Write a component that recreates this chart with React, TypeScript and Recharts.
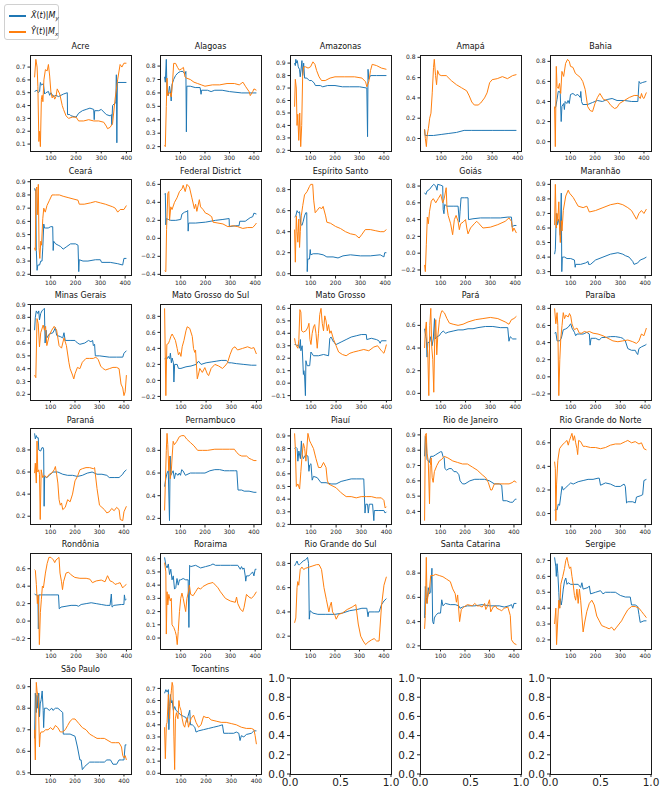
import { LineChart, Line, XAxis, YAxis } from "recharts";

type P = [number, number];

const BLUE = "#1f77b4";
const ORANGE = "#ff7f0e";

const xTicks = [100, 200, 300, 400];
const emptyXTicks = [0, 0.5, 1];
const emptyYTicks = [0, 0.2, 0.4, 0.6, 0.8, 1];

// --- per state series: [t, value] ---
const acreBlue: P[] = [[35,.51],[45,.52],[50,.5],[55,.51],[58,.58],[62,.56],[70,.57],[75,.49],[80,.5],[90,.51],[95,.48],[100,.5],[110,.47],[120,.48],[130,.47],[140,.48],[150,.49],[165,.5],[166,.33],[175,.33],[180,.32],[200,.31],[210,.34],[225,.36],[240,.37],[255,.38],[270,.37],[272,.29],[274,.36],[290,.36],[300,.37],[310,.35],[320,.33],[335,.32],[340,.33],[342,.25],[345,.4],[355,.42],[358,.42],[360,.64],[362,.11],[364,.58],[400,.58]];
const acreOrange: P[] = [[35,.62],[40,.76],[45,.7],[48,.55],[52,.12],[55,.2],[58,.08],[62,.45],[65,.48],[68,.43],[72,.6],[78,.68],[85,.67],[90,.72],[95,.63],[100,.5],[105,.46],[110,.48],[115,.45],[120,.47],[125,.53],[135,.49],[145,.4],[150,.37],[160,.32],[170,.3],[185,.31],[200,.31],[210,.28],[230,.28],[250,.29],[270,.28],[290,.28],[310,.27],[320,.24],[325,.22],[335,.23],[345,.26],[355,.45],[365,.6],[375,.72],[382,.7],[390,.73],[400,.73]];
const acreTicks = [0.1, 0.2, 0.3, 0.4, 0.5, 0.6, 0.7];

const alagoasBlue: P[] = [[35,.72],[38,.68],[42,.85],[45,.6],[50,.58],[55,.65],[60,.59],[62,.54],[65,.66],[72,.7],[80,.73],[90,.75],[100,.76],[110,.76],[118,.74],[122,.76],[124,.31],[126,.65],[140,.65],[160,.64],[180,.64],[184,.59],[186,.62],[210,.62],[225,.61],[240,.62],[270,.62],[300,.61],[350,.6],[400,.6],[410,.6]];
const alagoasOrange: P[] = [[35,.21],[38,.2],[42,.5],[45,.71],[48,.58],[52,.6],[58,.6],[62,.57],[68,.69],[72,.82],[80,.82],[88,.79],[95,.77],[105,.78],[112,.79],[118,.72],[125,.71],[140,.7],[155,.68],[170,.67],[185,.66],[200,.65],[230,.66],[260,.66],[290,.67],[320,.67],[340,.66],[355,.68],[365,.65],[380,.61],[385,.58],[395,.61],[400,.63],[410,.62]];
const alagoasTicks = [0.2, 0.3, 0.4, 0.5, 0.6, 0.7, 0.8];

const amazonasBlue: P[] = [[35,.9],[38,.88],[40,.93],[43,.9],[46,.92],[50,.87],[55,.85],[58,.79],[62,.86],[65,.92],[68,.8],[72,.9],[76,.78],[85,.78],[95,.76],[105,.76],[115,.74],[120,.72],[140,.72],[150,.71],[170,.72],[200,.72],[230,.71],[260,.71],[300,.71],[330,.7],[333,.31],[335,.85],[338,.77],[345,.8],[370,.8],[410,.8]];
const amazonasOrange: P[] = [[35,.55],[38,.77],[42,.7],[45,.4],[48,.49],[52,.28],[56,.5],[60,.23],[64,.4],[68,.8],[72,.87],[80,.87],[90,.86],[100,.87],[110,.91],[118,.89],[125,.84],[135,.79],[145,.76],[160,.76],[180,.78],[200,.79],[240,.79],[280,.79],[310,.78],[325,.75],[330,.71],[338,.75],[345,.84],[352,.89],[370,.88],[390,.86],[410,.85]];
const amazonasTicks = [0.2, 0.3, 0.4, 0.5, 0.6, 0.7, 0.8, 0.9];

const amapaBlue: P[] = [[35,.09],[37,.03],[50,.03],[70,.03],[100,.04],[130,.05],[160,.06],[190,.08],[220,.08],[260,.08],[300,.08],[350,.08],[395,.08]];
const amapaOrange: P[] = [[35,.09],[38,0],[42,-.08],[45,.03],[50,.1],[55,.2],[60,.25],[65,.45],[70,.7],[73,.78],[78,.62],[82,.53],[86,.67],[92,.63],[100,.62],[120,.62],[140,.57],[160,.53],[180,.5],[200,.47],[210,.42],[220,.36],[230,.33],[245,.33],[255,.35],[270,.4],[280,.45],[290,.55],[300,.58],[320,.59],[340,.61],[360,.59],[380,.62],[395,.63]];
const amapaTicks = [0, 0.2, 0.4, 0.6, 0.8];

const bahiaBlue: P[] = [[35,.33],[40,.35],[45,.42],[50,.5],[55,.5],[58,.48],[62,.2],[65,.35],[72,.38],[75,.32],[78,.4],[85,.38],[90,.41],[95,.38],[100,.47],[110,.48],[120,.46],[130,.47],[140,.44],[142,.5],[145,.4],[150,.37],[170,.37],[190,.39],[210,.41],[230,.4],[250,.42],[270,.43],[290,.41],[320,.41],[350,.4],[375,.4],[380,.6],[385,.58],[395,.59],[410,.6]];
const bahiaOrange: P[] = [[35,.35],[38,-.05],[42,.75],[45,.55],[50,.53],[55,.58],[60,.48],[65,.7],[72,.65],[80,.78],[88,.82],[95,.8],[100,.75],[110,.74],[120,.68],[130,.66],[140,.64],[150,.6],[160,.52],[170,.35],[180,.31],[190,.3],[200,.38],[210,.44],[220,.48],[235,.42],[250,.41],[265,.36],[280,.33],[290,.34],[300,.38],[320,.41],[340,.44],[360,.46],[375,.46],[385,.43],[390,.48],[395,.44],[400,.43],[410,.49]];
const bahiaTicks = [0, 0.2, 0.4, 0.6, 0.8];

const cearaBlue: P[] = [[35,.85],[38,.83],[40,.84],[42,.38],[45,.23],[48,.27],[55,.27],[60,.3],[65,.3],[68,.4],[72,.58],[75,.55],[80,.55],[90,.55],[100,.56],[108,.56],[110,.38],[112,.45],[120,.43],[130,.42],[140,.41],[150,.39],[165,.41],[180,.43],[200,.43],[210,.42],[213,.22],[215,.31],[230,.3],[250,.3],[280,.31],[300,.31],[305,.29],[340,.29],[370,.28],[390,.27],[395,.32],[405,.32]];
const cearaOrange: P[] = [[35,.4],[38,.38],[40,.84],[44,.86],[46,.65],[50,.88],[53,.4],[56,.32],[60,.45],[63,.42],[68,.62],[72,.7],[78,.67],[85,.72],[95,.76],[105,.8],[120,.8],[135,.8],[150,.79],[170,.78],[190,.77],[210,.76],[215,.73],[235,.73],[260,.74],[280,.75],[300,.74],[320,.73],[350,.71],[360,.7],[370,.67],[380,.69],[395,.69],[405,.72]];
const cearaTicks = [0.2, 0.3, 0.4, 0.5, 0.6, 0.7, 0.8, 0.9];

const federalBlue: P[] = [[35,.49],[38,.5],[40,.15],[42,.22],[50,.21],[60,.2],[80,.2],[100,.21],[105,.27],[115,.29],[125,.3],[128,.31],[130,.08],[132,.17],[160,.17],[200,.18],[240,.2],[270,.21],[295,.22],[296,.13],[320,.14],[335,.14],[338,.19],[360,.19],[380,.23],[390,.24],[395,.28],[405,.27]];
const federalOrange: P[] = [[35,-.36],[40,-.37],[43,.1],[48,.5],[52,.52],[55,.2],[60,.35],[65,.32],[75,.4],[85,.45],[95,.52],[105,.55],[110,.59],[118,.52],[125,.6],[135,.57],[145,.45],[155,.33],[160,.38],[165,.3],[175,.43],[180,.35],[190,.32],[200,.28],[210,.27],[225,.24],[230,.18],[250,.17],[270,.16],[290,.13],[310,.14],[330,.13],[350,.11],[370,.12],[390,.12],[400,.15],[405,.17]];
const federalTicks = [-0.4, -0.2, 0, 0.2, 0.4, 0.6];

const espiritoBlue: P[] = [[35,.54],[40,.55],[45,.6],[50,.58],[55,.59],[60,.47],[65,.46],[70,.5],[75,.55],[80,.58],[84,.58],[86,.02],[88,.14],[95,.14],[98,.23],[100,.18],[110,.19],[130,.19],[150,.18],[165,.16],[190,.16],[210,.15],[230,.17],[260,.18],[300,.17],[340,.17],[380,.18],[395,.16],[398,.2],[405,.2]];
const espiritoOrange: P[] = [[35,.42],[38,.11],[42,.55],[45,.4],[48,.3],[52,.52],[55,.25],[58,.4],[62,.55],[68,.65],[75,.75],[85,.78],[95,.83],[100,.85],[108,.85],[112,.7],[118,.58],[125,.6],[135,.63],[145,.62],[150,.64],[160,.55],[165,.49],[180,.48],[200,.45],[220,.43],[240,.4],[260,.38],[280,.37],[295,.34],[305,.37],[320,.42],[340,.42],[360,.41],[380,.4],[395,.4],[405,.42]];
const espiritoTicks = [0, 0.2, 0.4, 0.6, 0.8];

const goiasBlue: P[] = [[35,.72],[40,.7],[45,.74],[55,.76],[65,.8],[72,.82],[80,.8],[85,.75],[88,.82],[100,.81],[108,.8],[110,.52],[113,.47],[116,.58],[125,.56],[150,.56],[170,.56],[175,.37],[178,.5],[182,.66],[195,.66],[210,.66],[212,.4],[230,.41],[260,.42],[300,.42],[340,.42],[370,.43],[385,.43],[388,.31],[395,.33],[405,.33]];
const goiasOrange: P[] = [[35,-.14],[38,-.22],[42,.1],[46,.43],[50,.35],[55,.5],[62,.62],[70,.65],[80,.6],[90,.65],[100,.7],[108,.6],[114,.65],[122,.78],[125,.55],[130,.45],[140,.35],[148,.22],[155,.4],[162,.45],[170,.38],[175,.28],[180,.35],[190,.37],[200,.4],[205,.3],[210,.23],[220,.3],[235,.35],[245,.38],[255,.35],[270,.3],[300,.31],[330,.34],[360,.38],[375,.42],[385,.38],[390,.26],[395,.3],[405,.24]];
const goiasTicks = [-0.2, 0, 0.2, 0.4, 0.6, 0.8];

const maranhaoBlue: P[] = [[35,.42],[38,.45],[42,.7],[45,.62],[50,.66],[55,.62],[58,.55],[62,.84],[64,.3],[66,.4],[75,.4],[85,.39],[100,.39],[115,.38],[118,.33],[120,.35],[140,.35],[160,.36],[170,.37],[172,.35],[180,.35],[200,.38],[230,.4],[260,.42],[290,.43],[310,.42],[320,.41],[335,.4],[350,.37],[355,.35],[370,.36],[380,.38],[395,.39],[405,.4]];
const maranhaoOrange: P[] = [[35,.62],[38,.9],[42,.6],[45,.7],[48,.65],[52,.78],[55,.6],[58,.5],[62,.65],[65,.58],[70,.72],[80,.82],[90,.86],[95,.84],[110,.81],[120,.78],[130,.75],[150,.74],[165,.75],[175,.71],[200,.72],[230,.74],[260,.76],[290,.77],[310,.76],[330,.74],[345,.72],[355,.69],[365,.66],[375,.7],[385,.72],[395,.7],[405,.73]];
const maranhaoTicks = [0.3, 0.4, 0.5, 0.6, 0.7, 0.8, 0.9];

const minasBlue: P[] = [[35,.7],[38,.8],[42,.85],[48,.83],[52,.85],[55,.78],[60,.83],[65,.85],[70,.86],[75,.87],[78,.6],[82,.7],[85,.64],[95,.67],[110,.68],[120,.72],[125,.66],[140,.65],[150,.64],[155,.68],[160,.62],[180,.62],[200,.62],[210,.6],[220,.59],[240,.6],[255,.62],[265,.61],[272,.62],[275,.58],[280,.59],[283,.5],[300,.5],[340,.49],[370,.49],[395,.49],[400,.52],[410,.54]];
const minasOrange: P[] = [[35,.35],[40,.33],[45,.79],[50,.75],[55,.57],[60,.68],[70,.74],[75,.7],[80,.73],[85,.58],[95,.66],[105,.7],[115,.73],[125,.7],[135,.58],[145,.56],[155,.64],[165,.58],[175,.45],[180,.4],[190,.35],[195,.32],[200,.36],[210,.41],[220,.4],[230,.45],[245,.48],[260,.48],[275,.48],[285,.49],[295,.47],[305,.42],[315,.4],[325,.39],[340,.4],[355,.41],[370,.41],[380,.4],[388,.28],[395,.25],[400,.19],[405,.22],[410,.35]];
const minasTicks = [0.2, 0.3, 0.4, 0.5, 0.6, 0.7, 0.8, 0.9];

const msulBlue: P[] = [[35,.27],[40,.28],[45,.27],[50,.3],[55,.27],[58,.34],[62,.22],[65,.28],[70,.22],[72,-.02],[75,.2],[85,.2],[90,.15],[100,.15],[120,.17],[140,.18],[160,.2],[170,.24],[180,.2],[200,.22],[220,.23],[240,.24],[260,.25],[280,.25],[290,.22],[300,.22],[320,.21],[350,.2],[380,.19],[400,.19]];
const msulOrange: P[] = [[35,.9],[40,-.19],[44,.45],[50,.46],[55,.5],[60,.55],[65,.58],[70,.55],[78,.5],[85,.4],[90,.32],[95,.35],[100,.3],[105,.42],[112,.5],[120,.62],[125,.67],[135,.65],[145,.55],[150,.4],[155,.35],[158,.38],[165,.02],[170,.08],[175,.15],[185,.1],[195,.16],[205,.08],[210,.06],[220,.15],[235,.2],[250,.18],[265,.15],[275,.18],[285,.22],[295,.32],[305,.4],[315,.42],[325,.38],[345,.4],[365,.42],[380,.4],[390,.41],[395,.37],[400,.33]];
const msulTicks = [-0.2, 0, 0.2, 0.4, 0.6, 0.8];

const mgrossoBlue: P[] = [[35,.31],[40,.31],[45,.3],[50,.31],[55,.28],[58,.35],[60,.26],[65,.3],[70,.07],[72,.1],[75,.05],[78,-.1],[80,.18],[85,.14],[95,.14],[100,.25],[110,.22],[130,.22],[150,.23],[170,.22],[175,.36],[180,.37],[190,.33],[200,.31],[220,.33],[240,.35],[260,.37],[280,.38],[300,.39],[320,.39],[322,.35],[340,.36],[360,.35],[370,.34],[375,.32],[380,.34],[400,.34]];
const mgrossoOrange: P[] = [[35,.36],[38,.32],[42,.3],[48,.28],[52,.35],[56,.59],[60,.57],[63,.42],[70,.41],[80,.42],[88,.45],[92,.48],[96,.35],[100,.31],[105,.4],[110,.45],[115,.47],[120,.4],[125,.28],[130,.4],[135,.55],[140,.6],[145,.48],[150,.42],[155,.54],[160,.5],[165,.42],[170,.47],[175,.4],[180,.42],[190,.35],[200,.3],[210,.25],[225,.23],[240,.22],[255,.24],[270,.25],[290,.26],[310,.27],[330,.26],[350,.29],[365,.3],[380,.26],[390,.24],[395,.27],[400,.31]];
const mgrossoTicks = [-0.1, 0, 0.1, 0.2, 0.3, 0.4, 0.5, 0.6];

const paraBlue: P[] = [[35,.57],[40,.5],[42,.48],[45,.32],[48,.45],[55,.45],[60,.5],[65,.42],[70,.48],[75,.66],[78,.48],[85,.5],[95,.51],[100,.53],[110,.55],[120,.53],[130,.54],[150,.55],[170,.56],[190,.56],[210,.57],[230,.57],[250,.58],[280,.59],[310,.59],[340,.58],[370,.58],[375,.46],[380,.5],[390,.48],[405,.48]];
const paraOrange: P[] = [[35,.4],[38,.55],[42,.63],[45,.45],[48,.35],[52,-.02],[56,.6],[60,.75],[64,.4],[68,.3],[72,.01],[76,.5],[80,.65],[84,.34],[88,.5],[95,.65],[100,.7],[105,.73],[115,.71],[125,.66],[135,.62],[150,.61],[170,.6],[190,.61],[210,.63],[240,.65],[270,.66],[300,.67],[330,.66],[360,.63],[375,.61],[385,.65],[395,.66],[405,.68]];
const paraTicks = [0, 0.2, 0.4, 0.6];

const paraibaBlue: P[] = [[35,.51],[40,.52],[45,.42],[55,.42],[62,.45],[70,.55],[80,.56],[90,.58],[100,.62],[105,.57],[115,.52],[120,.48],[125,.5],[135,.5],[150,.5],[165,.52],[175,.5],[178,.37],[182,.45],[200,.45],[215,.43],[225,.46],[240,.46],[260,.47],[280,.47],[300,.46],[310,.45],[320,.42],[330,.33],[345,.31],[360,.31],[365,.28],[370,.26],[375,.33],[385,.35],[400,.37],[405,.38]];
const paraibaOrange: P[] = [[35,.8],[40,.62],[45,.75],[48,.6],[52,-.22],[56,.2],[60,.45],[65,.6],[70,.75],[75,.68],[80,.72],[90,.7],[95,.74],[100,.71],[105,.62],[110,.58],[115,.55],[125,.57],[135,.51],[145,.51],[155,.53],[165,.52],[175,.53],[190,.51],[210,.5],[230,.48],[250,.45],[270,.42],[290,.41],[310,.42],[330,.43],[350,.41],[365,.39],[375,.42],[385,.5],[395,.48],[405,.57]];
const paraibaTicks = [-0.2, 0, 0.2, 0.4, 0.6, 0.8];

const paranaBlue: P[] = [[35,.95],[38,.9],[42,.93],[45,.91],[50,.91],[52,.8],[60,.79],[65,.82],[70,.82],[72,.8],[74,.29],[76,.56],[85,.55],[95,.57],[110,.6],[130,.6],[150,.58],[170,.57],[190,.57],[210,.56],[230,.57],[250,.59],[270,.6],[290,.58],[310,.58],[330,.57],[340,.55],[360,.55],[380,.55],[385,.56],[395,.58],[400,.6],[410,.62]];
const paranaOrange: P[] = [[35,.59],[38,.68],[42,.5],[45,.88],[48,.6],[52,.62],[55,.58],[58,.17],[62,.62],[68,.55],[75,.57],[85,.55],[95,.58],[105,.59],[115,.62],[120,.65],[125,.58],[130,.5],[135,.35],[140,.3],[145,.32],[150,.26],[160,.28],[170,.35],[180,.33],[190,.4],[200,.52],[210,.56],[220,.62],[230,.63],[245,.64],[260,.64],[275,.63],[280,.64],[290,.45],[300,.3],[310,.28],[320,.26],[330,.23],[340,.24],[350,.27],[360,.25],[370,.28],[380,.26],[385,.17],[395,.16],[400,.24],[410,.29]];
const paranaTicks = [0.2, 0.4, 0.6, 0.8];

const pernambucoBlue: P[] = [[35,.48],[40,.55],[45,.6],[50,.62],[55,.18],[58,.75],[60,.58],[65,.6],[70,.62],[75,.55],[80,.6],[90,.58],[95,.6],[100,.58],[105,.63],[110,.62],[120,.58],[140,.6],[160,.6],[180,.6],[200,.6],[220,.62],[240,.63],[260,.63],[280,.62],[300,.62],[320,.62],[330,.62],[335,.45],[350,.45],[360,.44],[380,.44],[400,.43],[410,.43]];
const pernambucoOrange: P[] = [[35,.27],[38,.5],[42,.8],[45,.95],[48,.85],[52,.62],[55,.75],[58,.55],[62,.6],[66,.75],[70,.88],[75,.85],[85,.88],[95,.92],[105,.93],[115,.93],[125,.9],[140,.87],[155,.84],[170,.8],[190,.8],[210,.8],[240,.81],[270,.81],[300,.81],[320,.81],[330,.78],[340,.76],[350,.75],[370,.75],[380,.73],[390,.72],[400,.71],[410,.71]];
const pernambucoTicks = [0.2, 0.4, 0.6, 0.8];

const piauiBlue: P[] = [[35,.8],[40,.81],[45,.8],[48,.7],[52,.78],[58,.72],[62,.86],[65,.75],[70,.72],[75,.74],[80,.75],[88,.74],[92,.62],[95,.67],[100,.68],[105,.55],[110,.58],[125,.57],[140,.53],[160,.53],[180,.52],[200,.52],[220,.54],[240,.55],[260,.56],[280,.56],[300,.56],[310,.56],[315,.29],[318,.36],[325,.36],[328,.29],[332,.36],[345,.36],[350,.23],[352,.31],[370,.31],[390,.31],[395,.29],[400,.3]];
const piauiOrange: P[] = [[35,.92],[38,.8],[42,.5],[48,.52],[55,.48],[60,.62],[65,.75],[70,.84],[75,.8],[80,.7],[88,.92],[95,.86],[100,.84],[110,.8],[120,.72],[130,.65],[140,.65],[150,.69],[160,.65],[165,.55],[170,.52],[180,.51],[200,.49],[220,.45],[240,.42],[260,.42],[280,.41],[300,.42],[320,.42],[340,.42],[360,.41],[380,.41],[390,.39],[395,.33],[400,.34]];
const piauiTicks = [0.2, 0.3, 0.4, 0.5, 0.6, 0.7, 0.8, 0.9];

const rioBlue: P[] = [[35,.76],[38,.89],[42,.85],[45,.74],[50,.73],[55,.72],[60,.76],[70,.76],[80,.77],[90,.78],[100,.79],[105,.79],[110,.76],[115,.75],[118,.68],[125,.67],[135,.68],[145,.68],[155,.66],[165,.66],[175,.64],[180,.6],[190,.58],[200,.58],[220,.6],[240,.61],[260,.61],[280,.61],[300,.6],[320,.58],[340,.58],[350,.57],[355,.47],[370,.47],[385,.46],[395,.46],[405,.48],[410,.48]];
const rioOrange: P[] = [[35,.34],[38,.9],[42,.91],[45,.78],[50,.73],[55,.45],[58,.7],[62,.75],[66,.62],[70,.59],[75,.66],[85,.7],[95,.73],[105,.74],[115,.76],[130,.75],[150,.73],[170,.72],[190,.71],[210,.71],[230,.69],[250,.67],[270,.64],[285,.62],[295,.59],[305,.54],[310,.54],[320,.58],[340,.58],[360,.58],[380,.58],[395,.59],[400,.6],[410,.59]];
const rioTicks = [0.4, 0.5, 0.6, 0.7, 0.8, 0.9];

const rgnBlue: P[] = [[35,.03],[40,.04],[45,.03],[50,.08],[55,.07],[60,.15],[65,.23],[70,.2],[80,.22],[90,.24],[100,.26],[110,.25],[120,.26],[130,.27],[150,.28],[170,.29],[190,.29],[210,.3],[215,.3],[220,.24],[240,.26],[260,.25],[280,.23],[300,.23],[315,.25],[320,.23],[325,.09],[330,.1],[350,.1],[360,.09],[365,.14],[380,.15],[390,.16],[395,.28],[405,.29]];
const rgnOrange: P[] = [[35,.44],[38,.38],[40,-.06],[43,.25],[48,.45],[55,.55],[65,.58],[75,.6],[85,.62],[90,.58],[95,.62],[100,.65],[105,.68],[110,.62],[115,.66],[120,.6],[125,.55],[128,.5],[132,.62],[140,.61],[150,.57],[160,.57],[180,.56],[200,.56],[220,.55],[240,.56],[260,.58],[280,.59],[300,.59],[320,.61],[330,.62],[345,.6],[360,.61],[375,.59],[385,.6],[395,.55],[405,.54]];
const rgnTicks = [0, 0.2, 0.4, 0.6];

const rondoniaBlue: P[] = [[35,.31],[40,.3],[45,.3],[48,.29],[50,-.09],[52,.3],[60,.3],[80,.3],[100,.3],[120,.3],[130,.3],[133,.14],[140,.16],[160,.17],[180,.18],[200,.18],[210,.17],[220,.19],[240,.2],[260,.21],[280,.2],[300,.19],[320,.18],[335,.18],[340,.31],[343,.16],[350,.18],[380,.19],[390,.19],[392,.3],[395,.24],[400,.25]];
const rondoniaOrange: P[] = [[35,.59],[38,.58],[42,.42],[46,.2],[50,.3],[54,-.27],[58,.1],[62,.25],[66,.4],[70,.38],[78,.55],[85,.66],[92,.73],[100,.73],[110,.7],[115,.67],[120,.7],[128,.72],[132,.73],[136,.55],[142,.45],[146,.36],[150,.45],[160,.55],[170,.56],[180,.53],[195,.5],[215,.49],[240,.49],[255,.48],[265,.44],[280,.46],[300,.47],[315,.45],[325,.52],[335,.46],[345,.45],[355,.42],[365,.43],[375,.44],[385,.38],[395,.41],[400,.42]];
const rondoniaTicks = [-0.2, 0, 0.2, 0.4, 0.6];

const roraimaBlue: P[] = [[35,.61],[40,.55],[45,.53],[50,.56],[55,.48],[60,.52],[65,.44],[70,.47],[75,.37],[80,.38],[85,.45],[90,.4],[95,.44],[100,.44],[110,.45],[120,.44],[130,.44],[133,.08],[136,.55],[140,.54],[160,.55],[180,.53],[200,.54],[220,.55],[230,.56],[240,.55],[260,.55],[300,.55],[330,.55],[340,.52],[345,.54],[350,.52],[355,.53],[360,.47],[362,.43],[365,.47],[375,.47],[380,.48],[390,.5],[395,.47],[400,.52],[405,.52]];
const roraimaOrange: P[] = [[35,.57],[40,.5],[42,.03],[45,.35],[48,.25],[52,.33],[58,.28],[62,.3],[65,.1],[72,.08],[78,.05],[82,.02],[86,-.05],[90,.05],[95,.2],[100,.3],[105,.34],[110,.3],[115,.25],[120,.2],[125,.3],[130,.34],[135,.4],[140,.33],[150,.32],[160,.35],[170,.38],[180,.37],[190,.39],[210,.41],[230,.42],[240,.4],[250,.38],[260,.35],[280,.3],[300,.28],[320,.27],[325,.31],[330,.26],[340,.22],[350,.2],[355,.23],[365,.33],[375,.31],[385,.3],[395,.32],[405,.35]];
const roraimaTicks = [0, 0.1, 0.2, 0.3, 0.4, 0.5, 0.6];

const rgsBlue: P[] = [[35,.78],[40,.8],[45,.82],[50,.79],[55,.79],[60,.8],[70,.82],[80,.83],[88,.85],[92,.8],[95,.34],[98,.41],[110,.39],[130,.38],[160,.38],[200,.38],[230,.39],[260,.41],[290,.42],[310,.43],[330,.43],[335,.36],[338,.4],[360,.4],[380,.4],[390,.46],[400,.49],[410,.51]];
const rgsOrange: P[] = [[35,.31],[40,.35],[45,.6],[48,.65],[52,.62],[58,.75],[65,.77],[72,.75],[80,.76],[95,.77],[110,.78],[125,.79],[135,.79],[145,.75],[155,.6],[165,.5],[175,.4],[180,.45],[185,.48],[190,.4],[200,.37],[205,.34],[215,.38],[230,.39],[250,.42],[270,.44],[285,.46],[295,.3],[305,.2],[315,.16],[325,.13],[335,.15],[350,.17],[360,.18],[370,.16],[380,.16],[390,.45],[400,.62],[410,.69]];
const rgsTicks = [0.2, 0.4, 0.6, 0.8];

const santaBlue: P[] = [[35,.43],[38,.69],[42,.6],[45,.55],[50,.68],[55,.63],[60,.64],[65,.84],[68,.4],[72,.38],[75,.43],[80,.45],[90,.47],[100,.47],[105,.58],[110,.53],[120,.55],[140,.54],[160,.54],[175,.53],[180,.51],[190,.52],[210,.53],[240,.53],[270,.54],[300,.53],[340,.53],[360,.52],[380,.53],[390,.54],[395,.51],[400,.55],[410,.55]];
const santaOrange: P[] = [[35,.34],[38,.45],[42,.93],[45,.55],[48,.6],[55,.67],[60,.78],[70,.78],[80,.79],[95,.78],[110,.77],[125,.75],[140,.73],[150,.67],[160,.63],[165,.56],[170,.62],[178,.4],[185,.5],[195,.52],[210,.54],[230,.53],[240,.55],[250,.53],[260,.53],[270,.52],[280,.55],[285,.5],[290,.52],[300,.58],[305,.48],[315,.52],[325,.53],[330,.51],[340,.5],[350,.49],[360,.51],[375,.52],[385,.45],[390,.25],[400,.22],[410,.21]];
const santaTicks = [0.2, 0.4, 0.6, 0.8];

const sergipeBlue: P[] = [[35,.72],[40,.66],[42,.6],[45,.68],[48,.62],[52,.5],[55,.4],[58,.46],[62,.42],[65,.45],[70,.52],[75,.57],[80,.59],[85,.55],[90,.56],[100,.55],[110,.55],[130,.55],[140,.53],[145,.56],[150,.52],[170,.53],[175,.54],[180,.49],[200,.5],[220,.51],[230,.49],[240,.5],[260,.5],[280,.5],[290,.49],[300,.48],[320,.47],[340,.47],[345,.42],[360,.42],[370,.41],[375,.36],[380,.31],[395,.32],[405,.32]];
const sergipeOrange: P[] = [[35,.3],[40,.4],[43,.17],[47,.3],[52,.45],[56,.4],[60,.55],[68,.6],[75,.65],[80,.7],[85,.72],[90,.68],[95,.65],[100,.66],[105,.6],[110,.55],[115,.48],[120,.45],[125,.52],[130,.43],[135,.52],[140,.45],[145,.35],[150,.25],[155,.3],[165,.38],[175,.43],[185,.45],[195,.42],[205,.35],[215,.32],[225,.29],[240,.28],[255,.27],[265,.28],[275,.26],[285,.28],[295,.3],[305,.32],[315,.35],[330,.39],[345,.41],[360,.41],[375,.4],[385,.38],[395,.36],[405,.34]];
const sergipeTicks = [0.2, 0.3, 0.4, 0.5, 0.6, 0.7];

const saoPauloBlue: P[] = [[35,.66],[38,.87],[42,.78],[45,.86],[48,.8],[52,.87],[55,.76],[58,.82],[62,.84],[66,.88],[70,.79],[72,.71],[75,.8],[85,.8],[95,.79],[105,.8],[110,.79],[120,.8],[130,.8],[140,.79],[150,.78],[152,.68],[160,.68],[180,.68],[200,.67],[210,.62],[220,.56],[225,.56],[230,.515],[240,.53],[260,.55],[280,.55],[300,.55],[320,.55],[330,.56],[345,.56],[355,.54],[370,.54],[380,.56],[390,.56],[400,.56],[405,.63],[410,.63]];
const saoPauloOrange: P[] = [[35,.7],[38,.56],[42,.92],[45,.88],[50,.85],[55,.62],[58,.68],[62,.69],[70,.69],[80,.7],[90,.7],[100,.71],[110,.7],[120,.72],[130,.71],[140,.69],[150,.69],[160,.7],[170,.72],[180,.74],[190,.75],[200,.75],[215,.73],[230,.71],[245,.7],[260,.68],[275,.67],[290,.66],[305,.66],[320,.66],[335,.65],[350,.64],[365,.64],[380,.64],[390,.62],[395,.58],[400,.57],[405,.58],[410,.56]];
const saoPauloTicks = [0.5, 0.6, 0.7, 0.8, 0.9];

const tocantinsBlue: P[] = [[35,.66],[40,.69],[45,.67],[50,.69],[52,.36],[55,.55],[58,.65],[62,.58],[65,.6],[70,.52],[75,.55],[80,.52],[90,.5],[100,.48],[110,.47],[120,.46],[125,.42],[128,.47],[135,.52],[138,.4],[145,.4],[155,.38],[160,.34],[170,.35],[190,.36],[210,.37],[230,.38],[250,.39],[265,.4],[270,.33],[290,.33],[310,.33],[320,.34],[330,.33],[335,.27],[340,.31],[350,.3],[360,.32],[380,.33],[390,.35],[400,.35]];
const tocantinsOrange: P[] = [[35,.38],[38,.12],[42,.4],[45,.42],[50,.65],[55,.45],[58,.6],[62,.68],[65,.75],[68,.72],[72,.3],[75,.03],[78,.45],[82,.5],[88,.45],[92,.6],[95,.55],[100,.52],[105,.45],[110,.4],[115,.38],[120,.43],[125,.46],[130,.38],[140,.45],[150,.48],[160,.42],[170,.38],[180,.4],[190,.47],[200,.46],[210,.46],[220,.44],[240,.43],[260,.42],[280,.42],[300,.41],[320,.4],[340,.38],[360,.37],[380,.37],[390,.36],[395,.31],[400,.24]];
const tocantinsTicks = [0, 0.1, 0.2, 0.3, 0.4, 0.5, 0.6, 0.7];

const states = [
  { name: "Acre", blue: acreBlue, orange: acreOrange, ticks: acreTicks },
  { name: "Alagoas", blue: alagoasBlue, orange: alagoasOrange, ticks: alagoasTicks },
  { name: "Amazonas", blue: amazonasBlue, orange: amazonasOrange, ticks: amazonasTicks },
  { name: "Amapá", blue: amapaBlue, orange: amapaOrange, ticks: amapaTicks },
  { name: "Bahia", blue: bahiaBlue, orange: bahiaOrange, ticks: bahiaTicks },
  { name: "Ceará", blue: cearaBlue, orange: cearaOrange, ticks: cearaTicks },
  { name: "Federal District", blue: federalBlue, orange: federalOrange, ticks: federalTicks },
  { name: "Espírito Santo", blue: espiritoBlue, orange: espiritoOrange, ticks: espiritoTicks },
  { name: "Goiás", blue: goiasBlue, orange: goiasOrange, ticks: goiasTicks },
  { name: "Maranhão", blue: maranhaoBlue, orange: maranhaoOrange, ticks: maranhaoTicks },
  { name: "Minas Gerais", blue: minasBlue, orange: minasOrange, ticks: minasTicks },
  { name: "Mato Grosso do Sul", blue: msulBlue, orange: msulOrange, ticks: msulTicks },
  { name: "Mato Grosso", blue: mgrossoBlue, orange: mgrossoOrange, ticks: mgrossoTicks },
  { name: "Pará", blue: paraBlue, orange: paraOrange, ticks: paraTicks },
  { name: "Paraíba", blue: paraibaBlue, orange: paraibaOrange, ticks: paraibaTicks },
  { name: "Paraná", blue: paranaBlue, orange: paranaOrange, ticks: paranaTicks },
  { name: "Pernambuco", blue: pernambucoBlue, orange: pernambucoOrange, ticks: pernambucoTicks },
  { name: "Piauí", blue: piauiBlue, orange: piauiOrange, ticks: piauiTicks },
  { name: "Rio de Janeiro", blue: rioBlue, orange: rioOrange, ticks: rioTicks },
  { name: "Rio Grande do Norte", blue: rgnBlue, orange: rgnOrange, ticks: rgnTicks },
  { name: "Rondônia", blue: rondoniaBlue, orange: rondoniaOrange, ticks: rondoniaTicks },
  { name: "Roraima", blue: roraimaBlue, orange: roraimaOrange, ticks: roraimaTicks },
  { name: "Rio Grande do Sul", blue: rgsBlue, orange: rgsOrange, ticks: rgsTicks },
  { name: "Santa Catarina", blue: santaBlue, orange: santaOrange, ticks: santaTicks },
  { name: "Sergipe", blue: sergipeBlue, orange: sergipeOrange, ticks: sergipeTicks },
  { name: "São Paulo", blue: saoPauloBlue, orange: saoPauloOrange, ticks: saoPauloTicks },
  { name: "Tocantins", blue: tocantinsBlue, orange: tocantinsOrange, ticks: tocantinsTicks },
];

// grid geometry (frame boxes)
const FRAME_W = 101;
const FRAME_H = 96;
const colLeft = (c: number) => 30 + c * 130;
const rowTop = (r: number) => 55 + r * 124.6;
const YW = 24; // room for y tick labels
const XH = 14; // room for x tick labels
const PAD_T = 6; // keep the top tick label inside the svg
const PAD_R = 10; // keep the last x tick label inside the svg

const fmt = (v: number) => (v < 0 ? "\u2212" + Math.abs(v).toFixed(1) : v.toFixed(1));
const toPts = (arr: P[]) => arr.map(([x, y]) => ({ x, y }));

const padded = (vals: number[]) => {
  const lo = Math.min(...vals);
  const hi = Math.max(...vals);
  const p = (hi - lo) * 0.05;
  return [lo - p, hi + p];
};

const Frame = ({ left, top }: { left: number; top: number }) => (
  <div
    style={{
      position: "absolute",
      left: left - 0.5,
      top: top - 0.5,
      width: FRAME_W + 1,
      height: FRAME_H + 1,
      border: "1px solid #1a1a1a",
      boxSizing: "border-box",
      pointerEvents: "none",
    }}
  />
);

const Panel = ({ s, idx }: { s: typeof states[number]; idx: number }) => {
  const col = idx % 5;
  const row = Math.floor(idx / 5);
  const left = colLeft(col);
  const top = rowTop(row);
  const all = [...s.blue, ...s.orange];
  const xDom = padded(all.map((p) => p[0]));
  const yDom = padded(all.map((p) => p[1]));
  const yT = s.ticks.filter((t) => t >= yDom[0] && t <= yDom[1]);
  const tickStyle = { fontSize: 6, fill: "#222", fontFamily: "DejaVu Sans" };
  return (
    <>
      <div
        style={{
          position: "absolute",
          left,
          top: top - 13,
          width: FRAME_W,
          textAlign: "center",
          fontSize: 8,
          lineHeight: "10px",
          fontFamily: "DejaVu Sans",
          color: "#111",
          whiteSpace: "nowrap",
        }}
      >
        {s.name}
      </div>
      <div style={{ position: "absolute", left: left - YW, top: top - PAD_T }}>
        <LineChart
          width={FRAME_W + YW + PAD_R}
          height={FRAME_H + XH + PAD_T}
          margin={{ top: PAD_T, right: PAD_R, bottom: 0, left: 0 }}
        >
          <XAxis
            type="number"
            dataKey="x"
            domain={xDom}
            ticks={xTicks}
            interval={0}
            allowDataOverflow
            height={XH}
            axisLine={false}
            tickSize={2.5}
            tickLine={{ stroke: "#222" }}
            tick={tickStyle}
          />
          <YAxis
            type="number"
            dataKey="y"
            domain={yDom}
            ticks={yT}
            interval={0}
            allowDataOverflow
            width={YW}
            axisLine={false}
            tickSize={2.5}
            tickLine={{ stroke: "#222" }}
            tick={tickStyle}
            tickFormatter={fmt}
          />
          <Line data={toPts(s.blue)} dataKey="y" stroke={BLUE} strokeWidth={1} dot={false} isAnimationActive={false} />
          <Line data={toPts(s.orange)} dataKey="y" stroke={ORANGE} strokeWidth={1} dot={false} isAnimationActive={false} />
        </LineChart>
      </div>
      <Frame left={left} top={top} />
    </>
  );
};

const EmptyPanel = ({ col }: { col: number }) => {
  const left = colLeft(col);
  const top = rowTop(5);
  const W = 26;
  const T = 8;
  const tickStyle = { fontSize: 10.5, fill: "#222", fontFamily: "DejaVu Sans" };
  return (
    <>
      <div style={{ position: "absolute", left: left - W, top: top - T }}>
        <LineChart
          width={FRAME_W + W + 10}
          height={FRAME_H + 18 + T}
          data={[{ x: 0, y: 0 }, { x: 1, y: 1 }]}
          margin={{ top: T, right: 10, bottom: 0, left: 0 }}
        >
          <XAxis type="number" dataKey="x" domain={[0, 1]} ticks={emptyXTicks} interval={0} height={18} axisLine={false} tickSize={3} tickLine={{ stroke: "#222" }} tick={tickStyle} tickFormatter={(v: number) => v.toFixed(1)} />
          <YAxis type="number" dataKey="y" domain={[0, 1]} ticks={emptyYTicks} interval={0} width={W} axisLine={false} tickSize={3} tickLine={{ stroke: "#222" }} tick={tickStyle} tickFormatter={(v: number) => v.toFixed(1)} />
        </LineChart>
      </div>
      <Frame left={left} top={top} />
    </>
  );
};

const Legend = () => {
  const txt = { fontSize: 8, fontFamily: "DejaVu Sans", color: "#111", lineHeight: "10px", whiteSpace: "nowrap" as const };
  const row = (color: string, sym: string, sub: string, top: number) => (
    <div style={{ position: "absolute", left: 0, top, height: 10, display: "flex", alignItems: "center" }}>
      <div style={{ width: 17, height: 1.3, background: color, marginLeft: 4, marginRight: 5 }} />
      <span style={txt}>
        <i>{sym}</i>(<i>t</i>)|<i>M</i>
        <i style={{ fontSize: 5.5, position: "relative", top: 2 }}>{sub}</i>
      </span>
    </div>
  );
  return (
    <div
      style={{
        position: "absolute",
        left: 4,
        top: 4,
        width: 55,
        height: 36,
        border: "1px solid #d0d0d0",
        borderRadius: 3,
        boxSizing: "border-box",
        background: "#fff",
      }}
    >
      {row(BLUE, "X\u0302", "y", 6)}
      {row(ORANGE, "Y\u0302", "x", 22)}
    </div>
  );
};

export default function App() {
  return (
    <div style={{ position: "absolute", left: 0, top: 0, width: 666, height: 799, background: "#fff", overflow: "hidden" }}>
      <Legend />
      {states.map((s, i) => (
        <Panel key={s.name} s={s} idx={i} />
      ))}
      <EmptyPanel col={2} />
      <EmptyPanel col={3} />
      <EmptyPanel col={4} />
    </div>
  );
}
